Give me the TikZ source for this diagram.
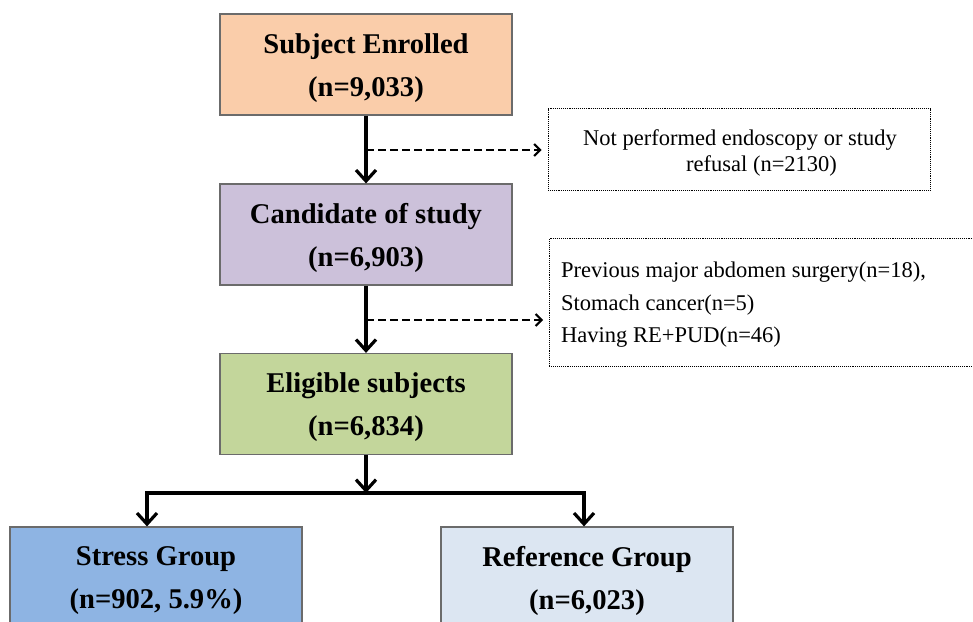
\documentclass[tikz,border=0pt]{standalone}
\usepackage{fontspec}
\setmainfont{Liberation Serif}
\usetikzlibrary{arrows.meta}
\definecolor{peach}{HTML}{FACDAA}
\definecolor{lilac}{HTML}{CCC1DA}
\definecolor{sage}{HTML}{C3D69B}
\definecolor{blueA}{HTML}{8EB4E3}
\definecolor{blueB}{HTML}{DCE6F2}
\definecolor{edge}{HTML}{6B6B6B}
\tikzset{
  mainbox/.style={draw=edge, line width=1.2pt, minimum width=292pt, minimum height=101pt,
    inner sep=0pt},
  maintext/.style={inner sep=0pt, align=center, font=\fontsize{28.6}{43}\selectfont\bfseries},
  notebox/.style={draw=black, densely dotted, line width=0.9pt, inner sep=0pt},
  notetext/.style={inner sep=0pt, anchor=west, font=\fontsize{22.5}{28}\selectfont},
  flow/.style={line width=4pt, -{Straight Barb[length=11pt,width=20pt,line width=3.2pt]}},
  side/.style={line width=2.6pt, dash pattern=on 8pt off 4pt, shorten >=6pt, -{Straight Barb[length=6pt,width=12pt,line width=2pt]}},
}
\begin{document}
\begin{tikzpicture}[x=1pt,y=-1pt]
\useasboundingbox (0,0) rectangle (973,621);
\node[mainbox, fill=peach] (b1) at (366,64.5) {};
\node[mainbox, fill=lilac] (b2) at (366,234.5) {};
\node[mainbox, fill=sage] (b3) at (366,404) {};
\node[mainbox, fill=blueA] (b4) at (156,577.5) {};
\node[mainbox, fill=blueB] (b5) at (587,577.5) {};
\node[maintext] (b1t) at (366,68) {Subject Enrolled\\(n=9,033)};
\node[maintext] (b2t) at (366,238) {Candidate of study\\(n=6,903)};
\node[maintext] (b3t) at (366,407.5) {Eligible subjects\\(n=6,834)};
\node[maintext] (b4t) at (156,581) {Stress Group\\(n=902, 5.9\%)};
\node[maintext] (b5t) at (587,581) {Reference Group\\(n=6,023)};
% note boxes
\node[notebox, minimum width=382pt, minimum height=82pt] (n1) at (739,149.5) {};
\node[notetext] (n1a) at (583,140) {Not performed endoscopy or study};
\node[notetext] (n1b) at (686,166) {refusal (n=2130)};
\node[notebox, minimum width=440pt, minimum height=128pt, anchor=north west] (n2) at (549,238) {};
\node[notetext] (n2a) at (561,272.5) {Previous major abdomen surgery(n=18),};
\node[notetext] (n2b) at (561,305) {Stomach cancer(n=5)};
\node[notetext] (n2c) at (561,337) {Having RE+PUD(n=46)};
% connectors
\coordinate (s1) at (366,150);
\coordinate (s2) at (366,320);
\draw[flow] (b1.south) -- (b2.north);
\draw[flow] (b2.south) -- (b3.north);
\draw[side] (s1) -- (n1.west |- s1);
\draw[side] (s2) -- (n2.west |- s2);
\coordinate (j) at (366,493);
\coordinate (jl) at (147,493);
\coordinate (jr) at (584,493);
\draw[flow] (b3.south) -- (j);
\draw[line width=4pt] ([xshift=-2pt]jl) -- ([xshift=2pt]jr);
\draw[flow] ([yshift=-2pt]jl) -- (jl |- b4.north);
\draw[flow] ([yshift=-2pt]jr) -- (jr |- b5.north);
\end{tikzpicture}
\end{document}
